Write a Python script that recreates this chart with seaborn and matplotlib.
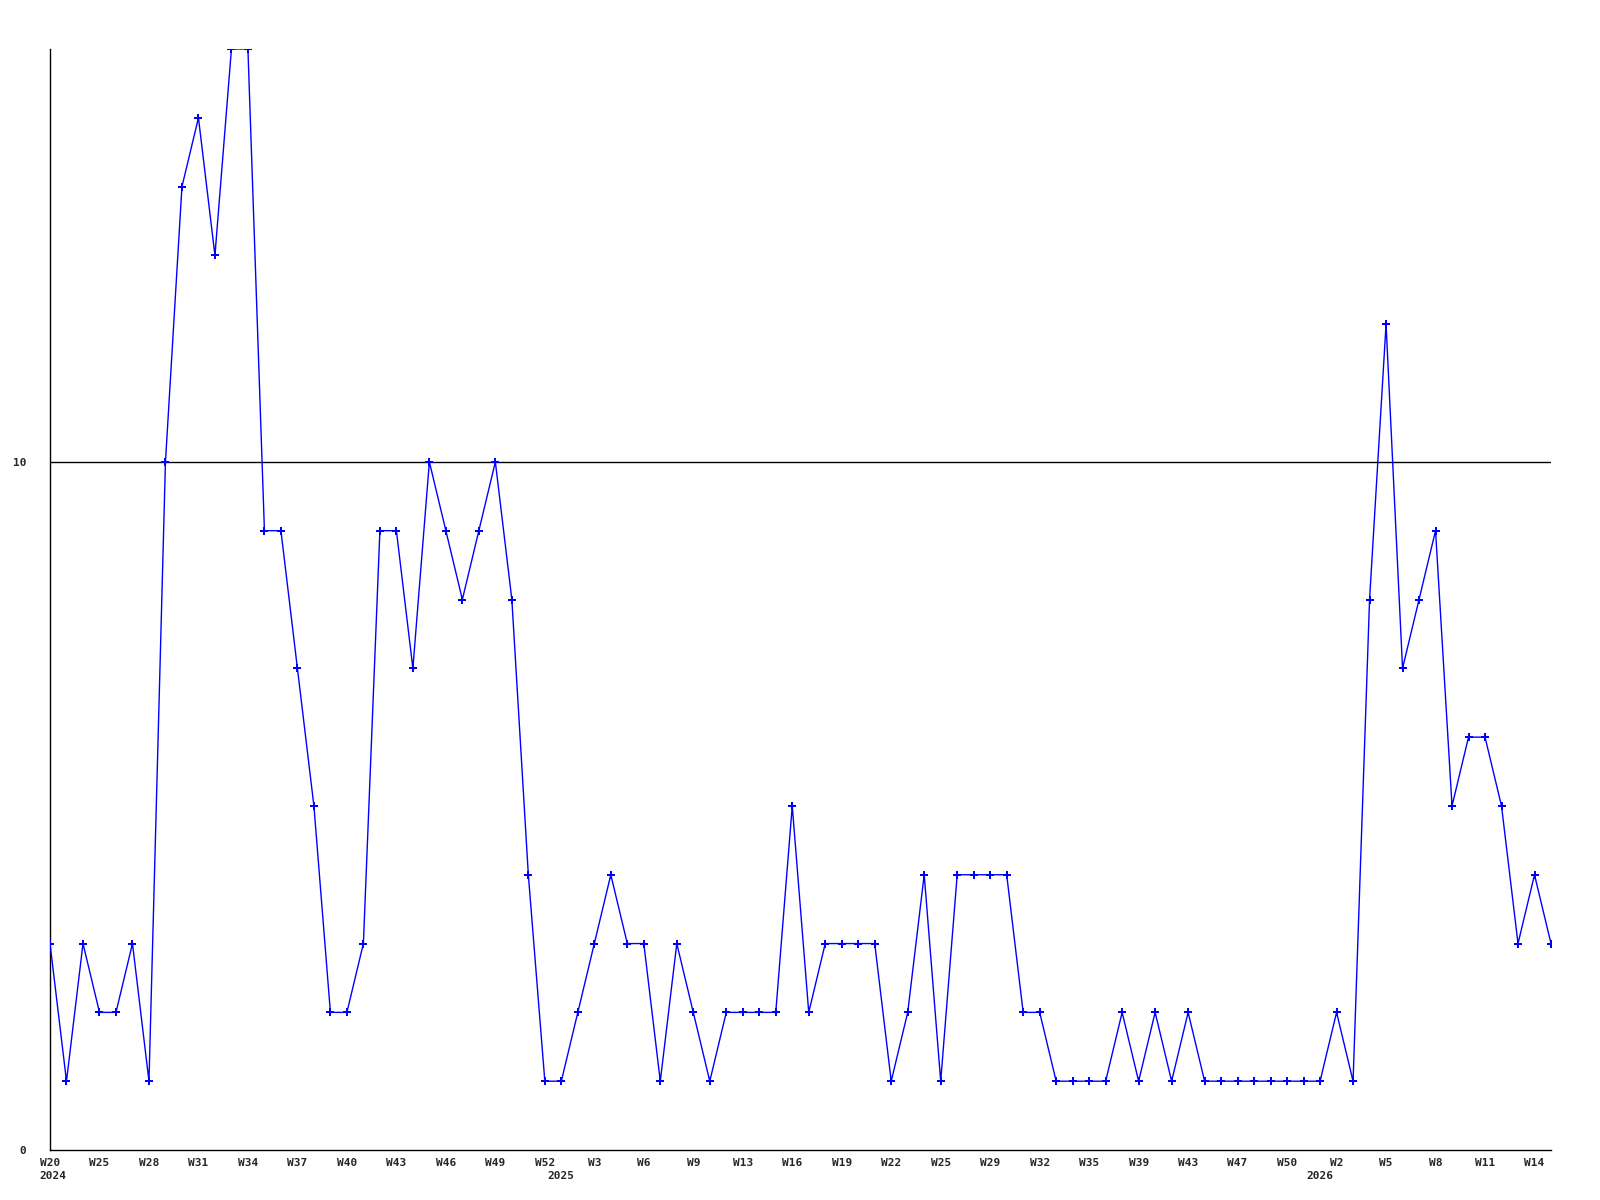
import numpy as np
import pandas as pd
import matplotlib
matplotlib.use("Agg")
import matplotlib.pyplot as plt
import seaborn as sns

values = [3, 1, 3, 2, 2, 3, 1, 10, 14, 15, 13, 16, 16, 9, 9, 7, 5, 2, 2, 3,
          9, 9, 7, 10, 9, 8, 9, 10, 8, 4, 1, 1, 2, 3, 4, 3, 3, 1, 3, 2,
          1, 2, 2, 2, 2, 5, 2, 3, 3, 3, 3, 1, 2, 4, 1, 4, 4, 4, 4, 2,
          2, 1, 1, 1, 1, 2, 1, 2, 1, 2, 1, 1, 1, 1, 1, 1, 1, 1, 2, 1,
          8, 12, 7, 8, 9, 5, 6, 6, 5, 3, 4, 3]

tick_labels = ["W20", "W25", "W28", "W31", "W34", "W37", "W40", "W43", "W46", "W49",
               "W52", "W3", "W6", "W9", "W13", "W16", "W19", "W22", "W25", "W29",
               "W32", "W35", "W39", "W43", "W47", "W50", "W2", "W5", "W8", "W11", "W14"]
year_labels = ["2024", "2025", "2026"]
year_index = [0.2, 31, 77]

sns.set_style("white")
plt.rcParams['font.family'] = ['DejaVu Sans Mono', 'DejaVu Sans']

df = pd.DataFrame({"idx": np.arange(len(values)), "value": values})

fig = plt.figure(figsize=(16, 12), dpi=100)
ax = fig.add_axes([50/1600, 1 - 1150/1200, (1551 - 50)/1600, (1150 - 49)/1200])

ax.axhline(10, color="black", linewidth=1.0, zorder=1)
sns.lineplot(data=df, x="idx", y="value", ax=ax, color="#0000ff", linewidth=1.0,
             marker="P", markersize=6, markeredgewidth=0, zorder=3)

ax.set_xlim(0, len(values) - 1)
ax.set_ylim(0, 16)
ax.set_xticks(np.arange(0, len(values), 3))
ax.set_xticklabels(tick_labels, fontsize=8, fontweight="bold")
ax.set_yticks([0, 10])
ax.set_yticklabels(["0", "10"], fontsize=8, fontweight="bold")
ax.tick_params(axis="both", length=0)
ax.tick_params(axis="x", pad=6)
ax.tick_params(axis="y", pad=17)
ax.set_xlabel("")
ax.set_ylabel("")

for lab, xi in zip(year_labels, year_index):
    ax.text(xi, -0.019, lab, transform=ax.get_xaxis_transform(), ha="center", va="top",
            fontsize=8, fontweight="bold")

for s in ["top", "right"]:
    ax.spines[s].set_visible(False)
for s in ["left", "bottom"]:
    ax.spines[s].set_color("black")
    ax.spines[s].set_linewidth(1.0)

fig.savefig("out.png", dpi=100, facecolor="white")
